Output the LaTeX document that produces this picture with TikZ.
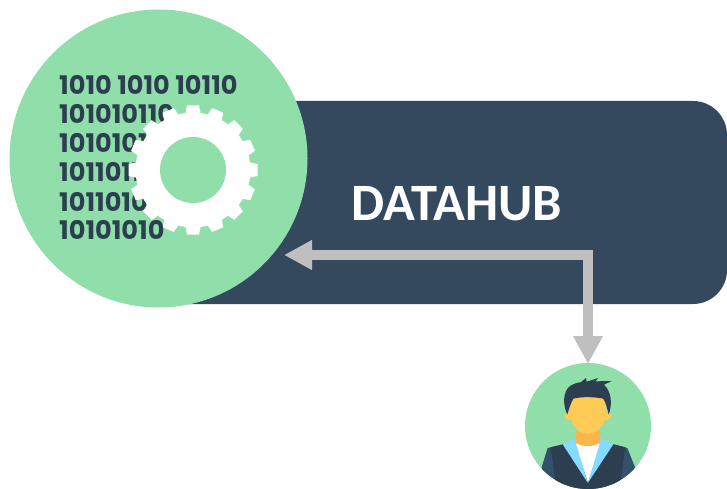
\documentclass[tikz,border=0pt]{standalone}
\usepackage{fontspec}
\usetikzlibrary{arrows.meta}
\setmainfont{Carlito}
\newfontfamily\binfont{Poppins}
\definecolor{hubblue}{HTML}{34495E}
\definecolor{softgreen}{HTML}{90DFAA}
\definecolor{arrowgray}{HTML}{BFBFBF}
\definecolor{inkdark}{HTML}{2C3E50}
\definecolor{sleeve}{HTML}{34506B}
\definecolor{skin}{HTML}{FFCB57}
\definecolor{neck}{HTML}{FBB54C}
\definecolor{lapel}{HTML}{84DBFF}
\tikzset{
  disc/.style={circle,fill=softgreen,inner sep=0pt,minimum size=#1},
  binline/.style={anchor=base west,inner sep=0pt,text=inkdark,font=\binfont\bfseries\fontsize{25.6}{26}\selectfont},
  flow/.style={draw=arrowgray,line width=9.5pt,{Triangle[width=28pt,length=28pt]}-{Triangle[width=28pt,length=28pt]}},
}
\begin{document}
\begin{tikzpicture}[x=1pt,y=-1pt]
\useasboundingbox (0,0) rectangle (727,489);
% hub bar
\fill[hubblue,rounded corners=34pt] (110,101) rectangle (727,304);
% big disc
\node[disc=298pt] (data) at (158.5,158.5) {};
% binary text
\node[binline] (b1) at (59,95) {1010 1010 10110};
\node[binline] (b2) at (59,124) {101010110};
\node[binline] (b3) at (59,153) {1010101};
\node[binline] (b4) at (59,182) {1011011};
\node[binline] (b5) at (59,211) {1011010};
\node[binline] (b6) at (59,239) {10101010};
% gear
\fill[white] (193,170) circle (57.5);
\foreach \a in {0,22.5,...,337.5}{
  \fill[white,shift={(193,170)},rotate=\a] (55,-8) -- (64.5,-6) -- (64.5,6) -- (55,8) -- cycle;
}
\node[disc=66pt] (hole) at (193,170) {};
% title
\node[inner sep=0pt,text=white,font=\bfseries\fontsize{52.5}{53}\selectfont] (title) at (457,204) {DATAHUB};
% user disc
\node[disc=126pt] (user) at (588,426) {};
% person
\begin{scope}[shift={(510,350)},x=0.3333pt,y=-0.3333pt]
  \clip (234,228) circle (189);
  % jacket
  \fill[sleeve] (95,352) -- (113,294) -- (160,283) -- (310,283) -- (352,294) -- (375,352) -- (375,420) -- (95,420) -- cycle;
  \fill[inkdark] (122,292) -- (160,283) -- (310,283) -- (346,292) -- (328,420) -- (140,420) -- cycle;
  % shirt
  \fill[white] (195,280) -- (272,280) -- (234,398) -- cycle;
  % lapels
  \fill[lapel] (158,283) -- (197,264) -- (199,285) -- (233,398) -- cycle;
  \fill[lapel] (310,283) -- (270,264) -- (268,285) -- (234,398) -- cycle;
  % neck
  \fill[neck] (197,245) -- (270,245) -- (270,278) .. controls (250,292) and (217,292) .. (197,278) -- cycle;
  % ears
  \fill[skin] (177,198) circle (13);
  \fill[skin] (291,198) circle (13);
  % face
  \fill[skin] (178,130) -- (290,130) -- (288,200) .. controls (282,232) and (256,251) .. (233,251) .. controls (210,251) and (186,232) .. (180,200) -- cycle;
  % hair
  \fill[inkdark] (172,194) .. controls (158,165) and (158,125) .. (180,108)
    .. controls (193,100) and (205,97) .. (212,97) -- (228,84) -- (230,95) -- (265,84) -- (256,94) -- (305,93)
    -- (282,104) .. controls (304,125) and (308,160) .. (296,194)
    .. controls (292,175) and (287,158) .. (280,146)
    .. controls (250,140) and (215,140) .. (190,146)
    .. controls (182,160) and (176,178) .. (172,194) -- cycle;
\end{scope}
% connector
\coordinate (elbow) at (588,255);
\coordinate (dataport) at (284,255);
\coordinate (userport) at (588,364);
\draw[flow] (dataport) -- (elbow) -- (userport);
\end{tikzpicture}
\end{document}
